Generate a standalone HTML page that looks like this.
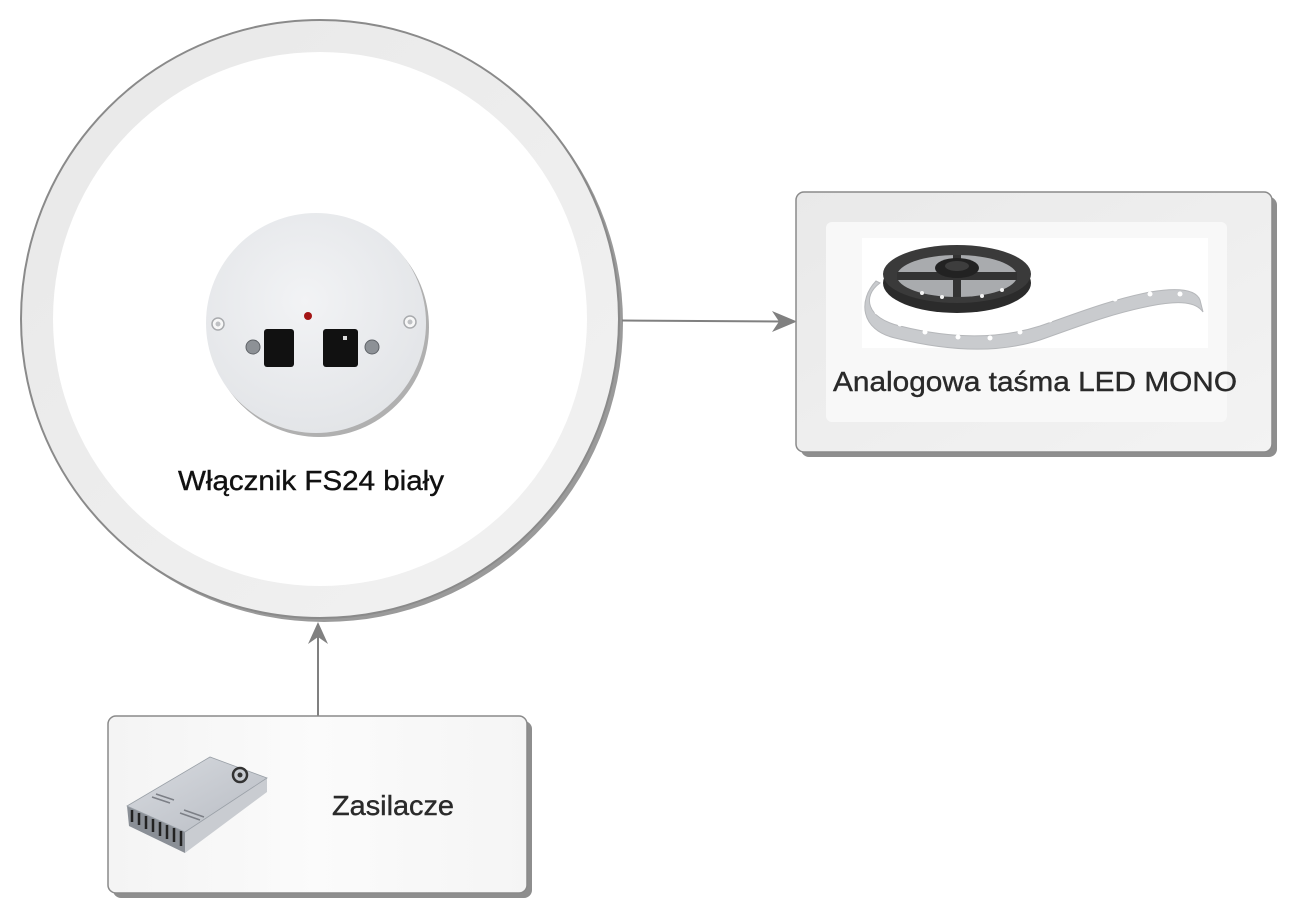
<!DOCTYPE html>
<html>
<head>
<meta charset="utf-8">
<style>
html,body{margin:0;padding:0;background:#fff;}
svg{display:block;}
text{font-family:"Liberation Sans",sans-serif;}
</style>
</head>
<body>
<svg width="1298" height="918" viewBox="0 0 1298 918" xmlns="http://www.w3.org/2000/svg">
<defs>
  <linearGradient id="ringg" x1="0" y1="0" x2="1" y2="1">
    <stop offset="0" stop-color="#e8e8e8"/>
    <stop offset="1" stop-color="#f2f2f2"/>
  </linearGradient>
  <linearGradient id="boxg" x1="0" y1="0" x2="1" y2="1">
    <stop offset="0" stop-color="#e9e9e9"/>
    <stop offset="1" stop-color="#f3f3f3"/>
  </linearGradient>
  <linearGradient id="box2g" x1="0" y1="0" x2="1" y2="0">
    <stop offset="0" stop-color="#f4f4f4"/>
    <stop offset="0.5" stop-color="#fbfbfb"/>
    <stop offset="1" stop-color="#f5f5f5"/>
  </linearGradient>
  <radialGradient id="plateg" cx="0.45" cy="0.4" r="0.6">
    <stop offset="0" stop-color="#f2f3f5"/>
    <stop offset="1" stop-color="#e3e5e8"/>
  </radialGradient>
  <linearGradient id="psTop" x1="0" y1="0" x2="1" y2="1">
    <stop offset="0" stop-color="#d8dbe0"/>
    <stop offset="1" stop-color="#b8bcc3"/>
  </linearGradient>
</defs>

<!-- Big circle -->
<circle cx="324" cy="323" r="299" fill="#9a9a9a"/>
<circle cx="320" cy="319" r="299" fill="url(#ringg)" stroke="#8a8a8a" stroke-width="2"/>
<circle cx="320" cy="319" r="267" fill="#ffffff"/>

<!-- switch plate -->
<circle cx="319" cy="327" r="110" fill="#6f6f6f" opacity="0.55"/>
<circle cx="316" cy="323" r="110" fill="url(#plateg)"/>
<circle cx="218" cy="324" r="6" fill="#f7f7f7" stroke="#a9abae" stroke-width="1.5"/>
<circle cx="218" cy="324" r="2.5" fill="#bfc1c4"/>
<circle cx="410" cy="322" r="6" fill="#f7f7f7" stroke="#a9abae" stroke-width="1.5"/>
<circle cx="410" cy="322" r="2.5" fill="#bfc1c4"/>
<circle cx="253" cy="347" r="7" fill="#8d9196" stroke="#5f6368" stroke-width="1"/>
<circle cx="372" cy="347" r="7" fill="#8d9196" stroke="#5f6368" stroke-width="1"/>
<rect x="264" y="329" width="30" height="38" rx="3" fill="#111"/>
<rect x="323" y="329" width="35" height="38" rx="3" fill="#111"/>
<rect x="343" y="336" width="4" height="4" fill="#ddd"/>
<circle cx="308" cy="316" r="4" fill="#a31515"/>

<text x="178" y="490" font-size="28" fill="#111" stroke="#111" stroke-width="0.4" textLength="266" lengthAdjust="spacingAndGlyphs">Włącznik FS24 biały</text>

<!-- connector circle -> LED box -->
<line x1="622" y1="320.5" x2="782" y2="321.5" stroke="#808080" stroke-width="2"/>
<path d="M797,321.5 L772,311 L779,321.5 L772,332 Z" fill="#808080"/>

<!-- connector PSU -> circle -->
<line x1="318" y1="716" x2="318" y2="636" stroke="#808080" stroke-width="2"/>
<path d="M318,622 L308,644 L318,637 L328,644 Z" fill="#808080"/>

<!-- LED box -->
<rect x="801" y="197" width="476" height="260" rx="8" fill="#8e8e8e"/>
<rect x="796" y="192" width="476" height="260" rx="8" fill="url(#boxg)" stroke="#8a8a8a" stroke-width="1.5"/>
<rect x="826" y="222" width="401" height="200" rx="6" fill="#f8f8f8"/>
<rect x="862" y="238" width="346" height="110" fill="#ffffff"/>

<!-- LED strip drawing -->
<path d="M880,283 C862,296 866,318 900,326 C940,336 990,342 1040,326 C1080,312 1110,300 1150,292 C1180,287 1196,290 1200,300 L1203,312 C1196,302 1180,300 1150,306 C1110,314 1080,326 1040,340 C990,356 935,348 895,338 C860,330 858,300 876,281 Z" fill="#c9cbce" stroke="#b5b7ba" stroke-width="1"/>
<g fill="#ffffff">
  <circle cx="877" cy="312" r="2.5"/><circle cx="900" cy="324" r="2.5"/><circle cx="925" cy="332" r="2.5"/>
  <circle cx="958" cy="337" r="2.5"/><circle cx="990" cy="338" r="2.5"/><circle cx="1020" cy="332" r="2.5"/>
  <circle cx="1050" cy="320" r="2.5"/><circle cx="1083" cy="307" r="2.5"/><circle cx="1115" cy="299" r="2.5"/>
  <circle cx="1150" cy="294" r="2.5"/><circle cx="1180" cy="294" r="2.5"/>
</g>
<ellipse cx="957" cy="283" rx="74" ry="30" fill="#2b2b2b"/>
<ellipse cx="957" cy="274" rx="74" ry="29" fill="#3a3a3a"/>
<ellipse cx="957" cy="276" rx="60" ry="21" fill="#a9abae"/>
<path d="M897,276 L1017,276 M957,255 L957,297" stroke="#333" stroke-width="8"/>
<ellipse cx="957" cy="268" rx="22" ry="10" fill="#222"/>
<ellipse cx="957" cy="266" rx="12" ry="5" fill="#3d3d3d"/>
<g fill="#f4f4f4">
  <circle cx="922" cy="293" r="2"/><circle cx="942" cy="297" r="2"/><circle cx="982" cy="296" r="2"/><circle cx="1002" cy="290" r="2"/>
</g>

<text x="833" y="391" font-size="28" fill="#2a2a2a" stroke="#2a2a2a" stroke-width="0.4" textLength="404" lengthAdjust="spacingAndGlyphs">Analogowa taśma LED MONO</text>

<!-- PSU box -->
<rect x="113" y="721" width="419" height="177" rx="8" fill="#8e8e8e"/>
<rect x="108" y="716" width="419" height="177" rx="8" fill="url(#box2g)" stroke="#8a8a8a" stroke-width="1.5"/>

<!-- PSU drawing -->
<path d="M127,806 L185,832 L185,853 L129,826 Z" fill="#8a8f96"/>
<path d="M185,832 L267,778 L267,792 L185,853 Z" fill="#c9ccd1"/>
<path d="M127,806 L210,757 L267,778 L185,832 Z" fill="url(#psTop)" stroke="#9aa0a7" stroke-width="0.8"/>
<g stroke="#222" stroke-width="2.5">
  <line x1="132" y1="810" x2="132" y2="822"/><line x1="139" y1="813" x2="139" y2="825"/>
  <line x1="146" y1="816" x2="146" y2="829"/><line x1="153" y1="819" x2="153" y2="832"/>
  <line x1="160" y1="822" x2="160" y2="836"/><line x1="167" y1="825" x2="167" y2="839"/>
  <line x1="174" y1="828" x2="174" y2="842"/><line x1="181" y1="831" x2="181" y2="846"/>
</g>
<circle cx="240" cy="775" r="7" fill="none" stroke="#333" stroke-width="2.5"/>
<circle cx="240" cy="775" r="2.5" fill="#333"/>
<g stroke="#7c7f86" stroke-width="1.5">
  <line x1="152" y1="797" x2="170" y2="803"/><line x1="156" y1="794" x2="174" y2="800"/>
  <line x1="180" y1="813" x2="200" y2="820"/><line x1="184" y1="810" x2="204" y2="817"/>
</g>

<text x="332" y="815" font-size="28" fill="#2a2a2a" stroke="#2a2a2a" stroke-width="0.4" textLength="122" lengthAdjust="spacingAndGlyphs">Zasilacze</text>
</svg>
</body>
</html>
